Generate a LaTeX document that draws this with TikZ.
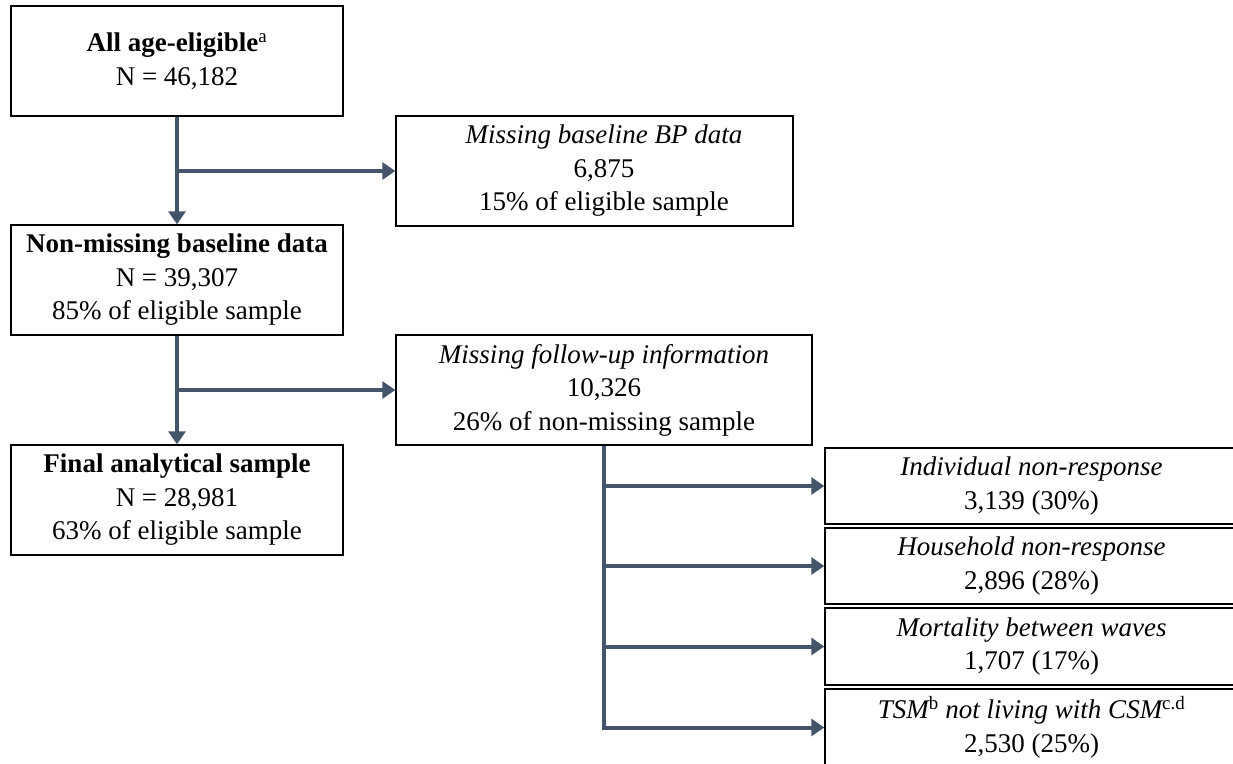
\documentclass[tikz,border=0pt]{standalone}
\usepackage{fontspec}
\setmainfont{Liberation Serif}
\usetikzlibrary{arrows.meta}
\definecolor{slate}{HTML}{44546A}
\begin{document}
\begin{tikzpicture}[x=1pt,y=-1pt,
  font=\fontsize{27}{33.5}\selectfont,
  box/.style={draw=black,line width=1.4pt,inner sep=0pt,align=center},
  txt/.style={inner sep=0pt,align=center},
  flow/.style={draw=slate,line width=4pt},
  arr/.style={flow,-{Triangle[length=13pt,width=17pt]}}]
\useasboundingbox (0,0) rectangle (1233,763);
\clip (0,0) rectangle (1233,763);
% left column
\node[box,minimum width=332,minimum height=110] (A) at (177,61)
  {\textbf{All age-eligible}\textsuperscript{a}\\N = 46,182};
\node[box,minimum width=332,minimum height=110] (C) at (177,280)
  {\textbf{Non-missing baseline data}\\N = 39,307\\85\% of eligible sample};
\node[box,minimum width=332,minimum height=110] (E) at (177,500)
  {\textbf{Final analytical sample}\\N = 28,981\\63\% of eligible sample};
% middle column
\node[box,minimum width=397,minimum height=110] (B) at (594.5,171) {};
\node[txt] (Bt) at (604,171)
  {\textit{Missing baseline BP data}\\6,875\\15\% of eligible sample};
\node[box,minimum width=416,minimum height=110] (D) at (604,390)
  {\textit{Missing follow-up information}\\10,326\\26\% of non-missing sample};
% right column
\node[box,minimum width=413,minimum height=76] (R1) at (1031.5,486)
  {\textit{Individual non-response}\\3,139 (30\%)};
\node[box,minimum width=413,minimum height=76] (R2) at (1031.5,566)
  {\textit{Household non-response}\\2,896 (28\%)};
\node[box,minimum width=413,minimum height=77] (R3) at (1031.5,646.5)
  {\textit{Mortality between waves}\\1,707 (17\%)};
\node[box,minimum width=413,minimum height=77] (R4) at (1031.5,727.5)
  {\textit{TSM\textsuperscript{\upshape b} not living with CSM\textsuperscript{\upshape c.d}}\\2,530 (25\%)};
% connectors
\draw[arr] (A.south) -- (C.north);
\draw[arr] (A.south |- B.west) -- (B.west);
\draw[arr] (C.south) -- (E.north);
\draw[arr] (C.south |- D.west) -- (D.west);
\draw[arr] (D.south) -- (D.south |- R4.west) -- (R4.west);
\draw[arr] (D.south |- R1.west) -- (R1.west);
\draw[arr] (D.south |- R2.west) -- (R2.west);
\draw[arr] (D.south |- R3.west) -- (R3.west);
\end{tikzpicture}
\end{document}
